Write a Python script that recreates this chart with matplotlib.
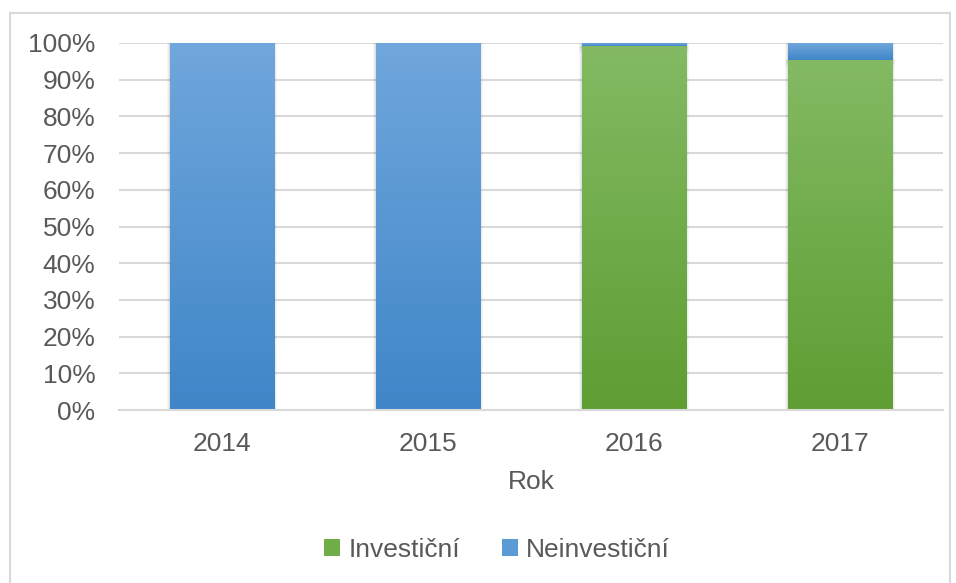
import numpy as np
import matplotlib.pyplot as plt
from matplotlib.patches import Rectangle, Patch
from matplotlib.colors import LinearSegmentedColormap

plt.rcParams['font.family'] = ['Liberation Sans', 'DejaVu Sans']

years = ['2014', '2015', '2016', '2017']
investicni = [0.0, 0.0, 99.2, 95.4]
neinvesticni = [100.0, 100.0, 0.8, 4.6]

green_cm = LinearSegmentedColormap.from_list('g', ['#5e9e33', '#83ba63'])
blue_cm = LinearSegmentedColormap.from_list('b', ['#3f86c8', '#70a7dc'])
txt = '#595959'

fig = plt.figure(figsize=(9.56, 5.83), dpi=100)
ax = fig.add_axes([119 / 956, 1 - 410 / 583, (943 - 119) / 956, (410 - 43) / 583])

x = np.arange(len(years))
w = 0.505
b1 = ax.bar(x, investicni, w, color='#70ad47', label='Investiční')
b2 = ax.bar(x, neinvesticni, w, bottom=investicni, color='#5b9bd5', label='Neinvestiční')

grad = np.linspace(0, 1, 256).reshape(-1, 1)
for bars, cm in ((b1, green_cm), (b2, blue_cm)):
    for p in bars:
        h = p.get_height()
        if h <= 0:
            continue
        x0, y0, pw = p.get_x(), p.get_y(), p.get_width()
        # soft shadow
        for k, a in enumerate([0.06, 0.045, 0.03]):
            ax.add_patch(Rectangle((x0 - 0.005 * (k + 1), y0 - 0.6 * (k + 1)),
                                   pw + 0.01 * (k + 1), h + 0.6 * (k + 1),
                                   color='black', alpha=a, lw=0, zorder=1))
        ax.imshow(grad, cmap=cm, origin='lower', aspect='auto',
                  extent=(x0, x0 + pw, y0, y0 + h), zorder=2)
        p.set_visible(False)

ax.set_xlim(-0.5, 3.5)
ax.set_ylim(0, 100)
ax.set_yticks(np.arange(0, 101, 10))
ax.set_yticklabels(['%d%%' % v for v in range(0, 101, 10)])
ax.set_xticks(x)
ax.set_xticklabels(years)
ax.yaxis.grid(True, color='#d9d9d9', lw=1.5)
ax.set_axisbelow(True)
for s in ['top', 'right', 'left']:
    ax.spines[s].set_visible(False)
ax.spines['bottom'].set_color('#d9d9d9')
ax.spines['bottom'].set_linewidth(1.5)
ax.tick_params(length=0, labelsize=19, colors=txt)
ax.tick_params(axis='y', pad=17)
ax.tick_params(axis='x', pad=16)
ax.set_xlabel('Rok', fontsize=19, color=txt, labelpad=10)

handles = [Patch(facecolor='#70ad47'), Patch(facecolor='#5b9bd5')]
fig.legend(handles, ['Investiční', 'Neinvestiční'], loc='center', bbox_to_anchor=(497 / 956, 1 - 550 / 583),
           ncol=2, frameon=False, fontsize=19, labelcolor=txt, handlelength=0.6, handleheight=0.6,
           handletextpad=0.3, columnspacing=1.6)

fig.patches.append(Rectangle((10 / 956, -0.1), 940 / 956, 1.1 - 13 / 583, transform=fig.transFigure,
                             fill=False, edgecolor='#d9d9d9', lw=1.5))

fig.savefig('out.png', dpi=100)
